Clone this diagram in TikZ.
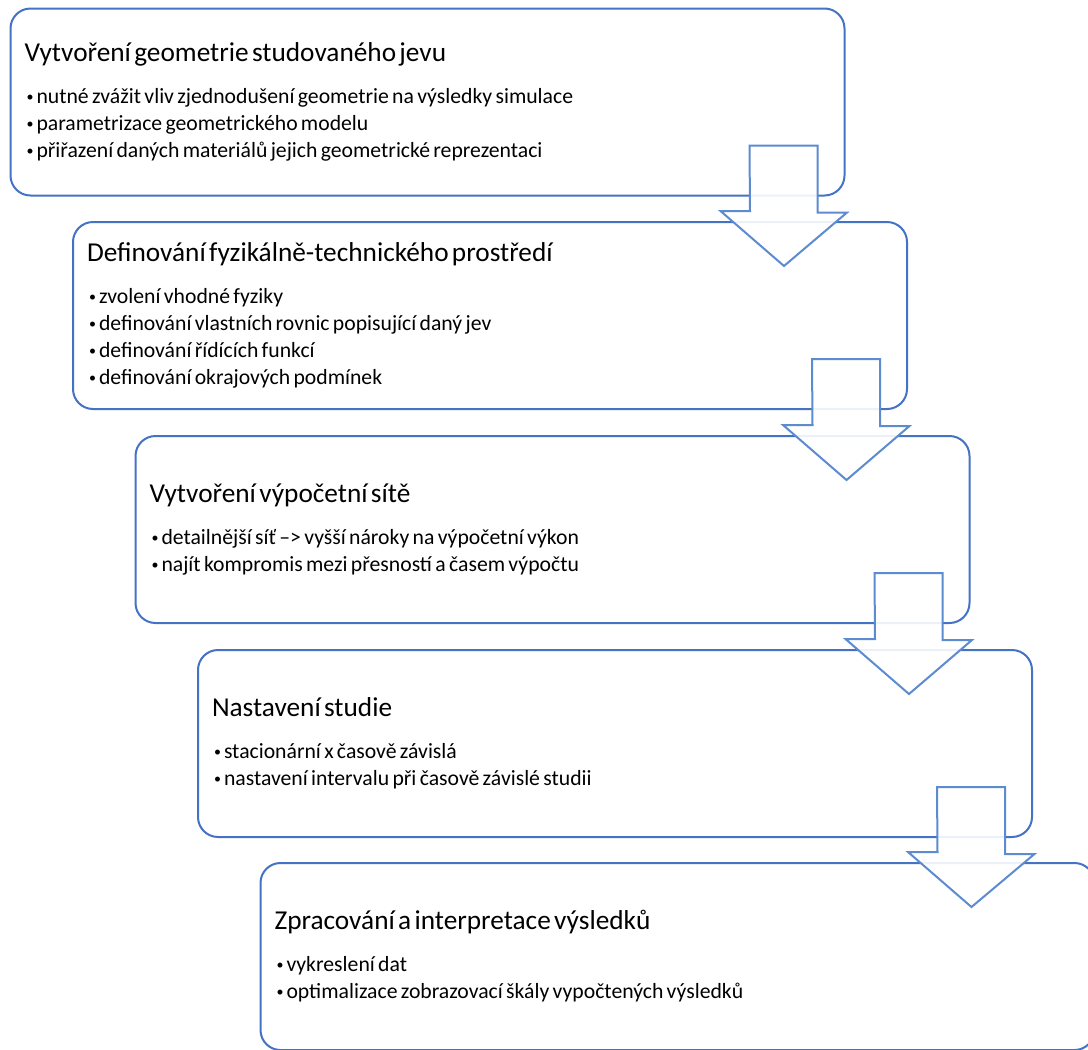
\documentclass[tikz,border=0pt]{standalone}
\usepackage{fontspec}
\setmainfont{Carlito}
\usetikzlibrary{calc, positioning}
\definecolor{boxblue}{RGB}{68,114,196}
\definecolor{arrowblue}{RGB}{92,139,208}
\setlength{\parindent}{0pt}
\setlength{\parskip}{0pt}
\newcommand{\steptitle}[1]{\vspace*{4pt}{\fontsize{27.3}{31}\selectfont #1\par}\vspace{11pt}\fontsize{21.7}{27}\selectfont}
\newcommand{\stepitem}[1]{\hspace*{2pt}\makebox[10pt][l]{\fontsize{14}{14}\selectfont\raisebox{2pt}{•}}#1\par}

\begin{document}
\begin{tikzpicture}[x=1pt,y=-1pt,line join=miter]
	\tikzset{stepbox/.style={draw=boxblue, line width=2pt, fill=white, rounded corners=20pt, text width=806pt, inner xsep=14pt, inner ysep=0pt, minimum height=187pt, align=left}}
	\tikzset{downarrow/.style={draw=arrowblue, line width=2pt, fill=white, fill opacity=0.9}}
	\useasboundingbox (0,0) rectangle (1088,1050);
	\clip (0,0) rectangle (1088,1050);
	\node[stepbox] (box1) at (427.5,102) {\steptitle{Vytvoření geometrie studovaného jevu}
		\stepitem{nutné zvážit vliv zjednodušení geometrie na výsledky simulace}
		\stepitem{parametrizace geometrického modelu}
		\stepitem{přiřazení daných materiálů jejich geometrické reprezentaci}};
	\node[stepbox] (box2) at (490,315.5) {\steptitle{Definování fyzikálně-technického prostředí}
		\stepitem{zvolení vhodné fyziky}
		\stepitem{definování vlastních rovnic popisující daný jev}
		\stepitem{definování řídících funkcí}
		\stepitem{definování okrajových podmínek}};
	\node[stepbox] (box3) at (552.5,529.5) {\steptitle{Vytvoření výpočetní sítě}
		\stepitem{detailnější síť –> vyšší nároky na výpočetní výkon}
		\stepitem{najít kompromis mezi přesností a časem výpočtu}};
	\node[stepbox] (box4) at (615,743.5) {\steptitle{Nastavení studie}
		\stepitem{stacionární x časově závislá}
		\stepitem{nastavení intervalu při časově závislé studii}};
	\node[stepbox] (box5) at (677.5,956.5) {\steptitle{Zpracování a interpretace výsledků}
		\stepitem{vykreslení dat}
		\stepitem{optimalizace zobrazovací škály vypočtených výsledků}};
	% block arrows between the steps
	\foreach \a/\b in {1/2,2/3,3/4,4/5}
		\draw[downarrow] ($(box\a.south east)+(-96,-51)$) -- ++(68,0) -- ++(0,67) -- ++(29.5,0)
			-- ($(box\b.north east)+(-124,45)$) -- ++(-63.5,-55) -- ++(29.5,0) -- cycle;
\end{tikzpicture}
\end{document}
